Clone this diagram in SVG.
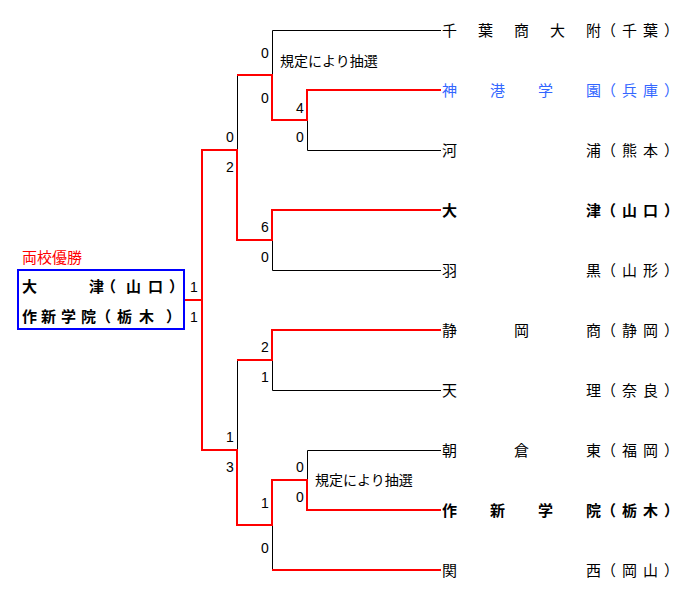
<svg xmlns="http://www.w3.org/2000/svg" width="693" height="601" viewBox="0 0 693 601">
<style>
.bk{stroke:#000;stroke-width:1;fill:none}
.rd{stroke:#ff0000;stroke-width:2;fill:none}
.sc{font-family:"Liberation Sans","Noto Sans CJK JP",sans-serif;font-size:14px;fill:#000;text-anchor:middle}
.tm{font-family:"Noto Sans CJK JP","Noto Sans CJK SC",sans-serif;font-size:15px;fill:#000}
.b{font-weight:bold}
.note{font-family:"Noto Sans CJK JP","Noto Sans CJK SC",sans-serif;font-size:14px;fill:#000}
</style>
<rect width="693" height="601" fill="#fff"/>
<g id="connectors">
<path class="bk" d="M272.5 30.5H441 M272.5 30.5V75 M307.5 150.5H441 M307.5 120V150.5 M237.5 75V150 M272.5 270.5H441 M272.5 240V270.5 M272.5 390.5H441 M272.5 360V390.5 M237.5 360V450 M307.5 450.5H441 M307.5 450.5V480 M272.5 525V570"/>
<path class="rd" d="M441 90H307V120H272V75H237"/>
<path class="rd" d="M441 210H272V240H237V150H202V300H185"/>
<path class="rd" d="M441 330H272V360H237"/>
<path class="rd" d="M202 299V450H237V525H272V480H307V510H441"/>
<path class="rd" d="M272 570H441"/>
</g>
<g id="scores">
<text class="sc" x="265" y="58">0</text>
<text class="sc" x="265" y="103">0</text>
<text class="sc" x="300" y="113">4</text>
<text class="sc" x="300" y="142">0</text>
<text class="sc" x="230" y="142">0</text>
<text class="sc" x="230" y="172">2</text>
<text class="sc" x="265" y="232">6</text>
<text class="sc" x="265" y="262">0</text>
<text class="sc" x="194" y="292">1</text>
<text class="sc" x="194" y="322">1</text>
<text class="sc" x="265" y="352">2</text>
<text class="sc" x="265" y="382">1</text>
<text class="sc" x="230" y="442">1</text>
<text class="sc" x="230" y="472">3</text>
<text class="sc" x="300" y="472">0</text>
<text class="sc" x="300" y="502">0</text>
<text class="sc" x="265" y="508">1</text>
<text class="sc" x="265" y="553">0</text>
<text class="note" x="280" y="66">規定により抽選</text>
<text class="note" x="315" y="485">規定により抽選</text>
</g>
<g id="champion">
<text x="22" y="263" style="font-family:'Noto Sans CJK JP',sans-serif;font-size:15px;fill:#ff0000">両校優勝</text>
<rect x="18" y="270" width="166" height="59" fill="none" stroke="#0000ff" stroke-width="2"/>
<text class="tm b" x="22 89 101 126 148 169" y="292">大津（山口）</text>
<text class="tm b" x="22 41 61 81 96 117 139 166" y="322">作新学院（栃木）</text>
</g>
<g id="team1"><text class="tm" x="442 478 514 550 586 601 622 643 664" y="36">千葉商大附（千葉）</text></g>
<g id="team2"><text class="tm" style="fill:#3366ff" x="442 490 538 586 601 622 643 664" y="96">神港学園（兵庫）</text></g>
<g id="team3"><text class="tm" x="442 586 601 622 643 664" y="156">河浦（熊本）</text></g>
<g id="team4"><text class="tm b" x="442 586 601 622 643 664" y="216">大津（山口）</text></g>
<g id="team5"><text class="tm" x="442 586 601 622 643 664" y="276">羽黒（山形）</text></g>
<g id="team6"><text class="tm" x="442 514 586 601 622 643 664" y="336">静岡商（静岡）</text></g>
<g id="team7"><text class="tm" x="442 586 601 622 643 664" y="396">天理（奈良）</text></g>
<g id="team8"><text class="tm" x="442 514 586 601 622 643 664" y="456">朝倉東（福岡）</text></g>
<g id="team9"><text class="tm b" x="442 490 538 586 601 622 643 664" y="516">作新学院（栃木）</text></g>
<g id="team10"><text class="tm" x="442 586 601 622 643 664" y="576">関西（岡山）</text></g>
</svg>
